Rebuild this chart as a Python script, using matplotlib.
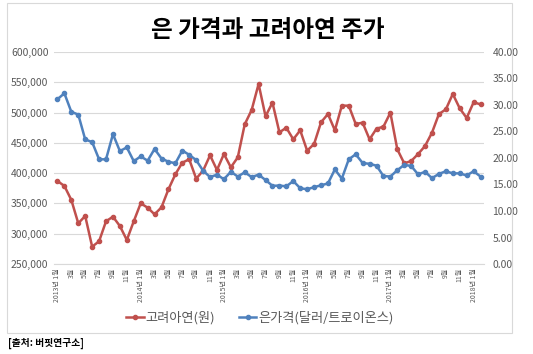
import matplotlib
matplotlib.use('Agg')
import matplotlib.pyplot as plt
import matplotlib.patches as patches
from matplotlib.ticker import FuncFormatter

plt.rcParams['font.family'] = ['Noto Sans CJK KR', 'DejaVu Sans']

# 데이터 (2013년 1월 ~ 2018년 2월, 월별)
zinc_price = [387000, 378800, 355700, 317200, 329250, 278600, 287500, 320500, 328100, 312700,
              289600, 320500, 350200, 343000, 332000, 343600, 373300, 398100, 417300, 422800,
              390900, 404100, 429400, 405200, 431600, 409600, 426100, 480600, 504250, 547200,
              493800, 516400, 467400, 475000, 455800, 470700, 437100, 448100, 483900, 497600,
              470700, 511400, 511400, 481100, 483300, 455800, 473400, 476700, 499800, 439300,
              416200, 420000, 431600, 444800, 466800, 497600, 505300, 530700, 507000, 491000,
              516900, 513600]
silver_price = [31.1, 32.2, 28.7, 28.2, 23.5, 23.0, 19.75, 19.75, 24.5, 21.3,
                22.0, 19.4, 20.3, 19.5, 21.7, 19.9, 19.3, 19.0, 21.4, 20.6,
                19.6, 17.6, 16.4, 16.85, 16.0, 17.4, 16.5, 17.3, 16.4, 16.85,
                15.85, 14.75, 14.8, 14.65, 15.65, 14.3, 14.1, 14.5, 14.85, 15.2,
                17.85, 16.1, 19.75, 20.7, 19.05, 18.9, 18.55, 16.6, 16.5, 17.7,
                18.7, 18.5, 16.9, 17.4, 16.2, 17.0, 17.5, 17.1, 17.1, 16.7,
                17.5, 16.5]
x_labels = []
for i in range(0, 62, 2):
    year = 2013 + i // 12
    month = i % 12 + 1
    x_labels.append(f'{year}년 {month}월' if month == 1 else f'{month}월')

red = '#C0504D'
blue = '#4F81BD'
gray_text = '#595959'

W, H = 533, 354
fig = plt.figure(figsize=(W / 100, H / 100), dpi=100)

# 차트 테두리
fig.patches.append(patches.Rectangle((7 / W, 1 - 333 / H), 505 / W, 330 / H,
                                     transform=fig.transFigure, fill=False,
                                     edgecolor='#D9D9D9', linewidth=0.8))

ax = fig.add_axes([54 / W, 1 - 264 / H, 430 / W, 212 / H])
ax2 = ax.twinx()

x = list(range(len(zinc_price)))
l1, = ax.plot(x, zinc_price, color=red, linewidth=1.8, marker='o', markersize=3,
              label='고려아연(원)')
l2, = ax2.plot(x, silver_price, color=blue, linewidth=1.8, marker='o', markersize=3,
               label='은가격(달러/트로이온스)')

ax.set_ylim(250000, 600000)
ax.set_yticks(range(250000, 600001, 50000))
ax.yaxis.set_major_formatter(FuncFormatter(lambda v, p: f'{int(v):,}'))
ax2.set_ylim(0, 40)
ax2.set_yticks(range(0, 41, 5))
ax2.yaxis.set_major_formatter(FuncFormatter(lambda v, p: f'{v:.2f}'))

ax.set_xlim(-0.5, len(x) - 0.5)
ax.set_xticks(range(0, 62, 2))
ax.set_xticklabels(x_labels, rotation=90, fontsize=5, color=gray_text)

ax.grid(axis='y', color='#D9D9D9', linewidth=0.8)
ax.set_axisbelow(True)
for a in (ax, ax2):
    for s in a.spines.values():
        s.set_visible(False)
ax.spines['bottom'].set_visible(True)
ax.spines['bottom'].set_color('#D9D9D9')
ax.tick_params(axis='both', length=0, pad=3)
ax.tick_params(axis='y', labelsize=7.5, labelcolor=gray_text, pad=4)
ax2.tick_params(axis='y', length=0, labelsize=7.5, labelcolor=gray_text, pad=6)

fig.text(268 / W, 1 - 30 / H, '은 가격과 고려아연 주가', ha='center', va='center',
         fontsize=17, fontweight='bold', color='black')

fig.legend(handles=[l1, l2], loc='center', bbox_to_anchor=(260 / W, 1 - 318 / H),
           ncol=2, frameon=False, prop={'size': 9.5}, labelcolor=gray_text,
           handlelength=1.3, columnspacing=1.8, handletextpad=0.15)

fig.text(8 / W, 1 - 343 / H, '[출처: 버핏연구소]', ha='left', va='center',
         fontsize=7, fontweight='bold', color='black')

fig.savefig('out.png', dpi=100)
